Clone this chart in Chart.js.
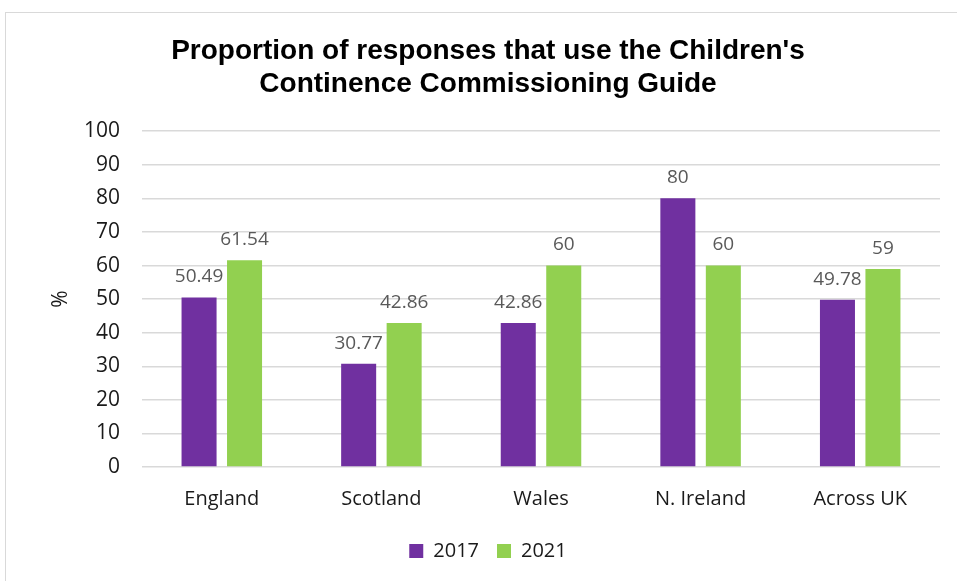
<!DOCTYPE html>
<html>
<head>
<meta charset="utf-8">
<script src="https://cdn.jsdelivr.net/npm/chart.js@4"></script>
<style>
  html, body { margin: 0; padding: 0; background: #fff; }
  #frame {
    position: absolute; left: 5px; top: 12px;
    width: 960px; height: 580px;
    border: 1px solid #d9d9d9; box-sizing: border-box;
  }
  #wrap { position: absolute; left: 0; top: 0; width: 957px; height: 581px; }
</style>
</head>
<body>
<div id="frame"></div>
<div id="wrap"><canvas id="chart"></canvas></div>
<script>
// values
const categories = ['England', 'Scotland', 'Wales', 'N. Ireland', 'Across UK'];
const values2017 = [50.49, 30.77, 42.86, 80, 49.78];
const values2021 = [61.54, 42.86, 60, 60, 59];
const yTicks = [0, 10, 20, 30, 40, 50, 60, 70, 80, 90, 100];

const bodyFont = "'Open Sans', 'Noto Sans', sans-serif";

// draws the value above each bar
const barLabels = {
    id: 'barLabels',
    afterDatasetsDraw(chart) {
        const ctx = chart.ctx;
        ctx.save();
        ctx.font = '19px ' + bodyFont;
        ctx.fillStyle = '#595959';
        ctx.textAlign = 'center';
        ctx.textBaseline = 'bottom';
        chart.data.datasets.forEach((ds, i) => {
            chart.getDatasetMeta(i).data.forEach((bar, j) => {
                ctx.fillText(String(ds.data[j]), bar.x, bar.y - 11);
            });
        });
        ctx.restore();
    }
};

new Chart(document.getElementById('chart'), {
    type: 'bar',
    data: {
        labels: categories,
        datasets: [
            { label: '2017', data: values2017, backgroundColor: '#7030A0' },
            { label: '2021', data: values2021, backgroundColor: '#92D050' }
        ]
    },
    options: {
        responsive: true,
        maintainAspectRatio: false,
        animation: false,
        categoryPercentage: 0.57,
        barPercentage: 0.77,
        layout: { padding: { left: 36, right: 17, top: 0, bottom: 10 } },
        scales: {
            y: {
                min: 0,
                max: 100,
                afterBuildTicks(axis) { axis.ticks = yTicks.map(v => ({ value: v })); },
                afterFit(axis) { axis.width = 106; },
                border: { display: false },
                grid: { color: '#d9d9d9', lineWidth: 1.5, drawTicks: false },
                ticks: { color: '#1a1a1a', font: { family: bodyFont, size: 21 }, padding: 22 },
                title: { display: true, text: '%', color: '#1a1a1a', font: { family: bodyFont, size: 21 }, padding: { top: 12, bottom: 0 } }
            },
            x: {
                border: { display: false },
                grid: { display: false },
                ticks: { color: '#1a1a1a', font: { family: bodyFont, size: 20 }, padding: 12 }
            }
        },
        plugins: {
            title: {
                display: true,
                text: ["Proportion of responses that use the Children's", 'Continence Commissioning Guide'],
                color: '#000',
                font: { family: "'Liberation Sans', Arial, sans-serif", size: 28, weight: 'bold' },
                padding: { top: 34, bottom: 30 },
                lineHeight: 1.15
            },
            legend: {
                position: 'bottom',
                labels: {
                    color: '#1a1a1a',
                    font: { family: bodyFont, size: 20 },
                    boxWidth: 14, boxHeight: 14,
                    padding: 18
                }
            },
            tooltip: { enabled: false }
        }
    },
    plugins: [barLabels]
});
</script>
</body>
</html>
